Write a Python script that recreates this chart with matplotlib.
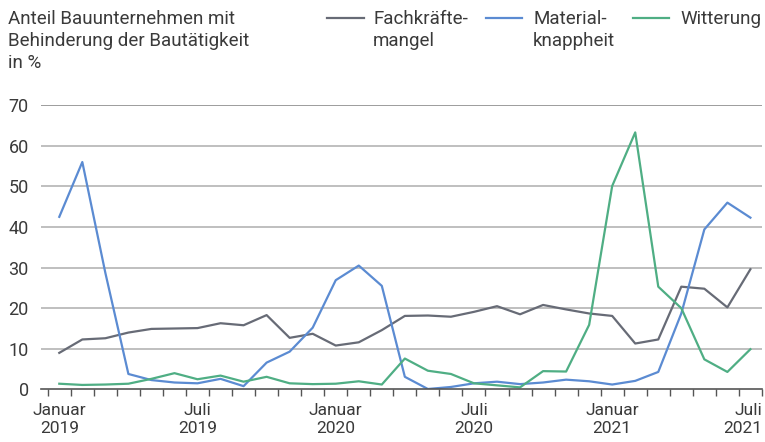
import matplotlib.pyplot as plt
from matplotlib.lines import Line2D
from matplotlib.transforms import ScaledTranslation

# monthly values, Januar 2019 .. Juli 2021
fachkraefte = [9.0, 12.3, 12.6, 14.0, 14.9, 15.0, 15.1, 16.3, 15.8, 18.3,
               12.7, 13.7, 10.8, 11.6, 14.6, 18.1, 18.2, 17.9, 19.1, 20.5,
               18.5, 20.8, 19.7, 18.7, 18.1, 11.3, 12.3, 25.3, 24.8, 20.2, 29.6]
material = [42.5, 56.0, 28.7, 3.8, 2.3, 1.7, 1.5, 2.6, 0.8, 6.6,
            9.3, 15.2, 26.9, 30.5, 25.5, 3.1, 0.1, 0.6, 1.5, 1.9,
            1.3, 1.7, 2.4, 2.0, 1.2, 2.1, 4.3, 18.7, 39.4, 46.0, 42.3]
witterung = [1.4, 1.1, 1.2, 1.4, 2.6, 4.0, 2.5, 3.4, 1.9, 3.1,
             1.5, 1.3, 1.4, 2.0, 1.2, 7.6, 4.6, 3.8, 1.5, 1.0,
             0.5, 4.5, 4.4, 15.9, 50.1, 63.3, 25.3, 20.0, 7.4, 4.3, 9.9]
tick_pos = [0, 6, 12, 18, 24, 30]
tick_labels = ['Januar\n2019', 'Juli\n2019', 'Januar\n2020', 'Juli\n2020',
               'Januar\n2021', 'Juli\n2021']

c_gray = '#676b76'
c_blue = '#5b8bd2'
c_green = '#4fae84'
txt = '#3a3a3a'

plt.rcParams['font.family'] = ['Roboto', 'DejaVu Sans']

fig = plt.figure(figsize=(7.65, 4.42), dpi=100)
ax = fig.add_axes([0.054, 0.119, 0.942, 0.643])

x = list(range(len(fachkraefte)))
ax.plot(x, fachkraefte, color=c_gray, lw=1.6)
ax.plot(x, material, color=c_blue, lw=1.6)
ax.plot(x, witterung, color=c_green, lw=1.6)

ax.set_ylim(0, 70)
ax.set_xlim(-0.78, 30.5)
ax.set_yticks(range(0, 80, 10))
for v in range(10, 80, 10):
    ax.axhline(v, color='#8c8c8c' if v == 70 else '#b4b4b4', lw=1.2, zorder=0)
ax.tick_params(axis='y', length=0, labelsize=13, colors=txt, pad=9)
ax.set_xticks(tick_pos)
ax.set_xticklabels(tick_labels, fontsize=12.5, color=txt, linespacing=1.2)
ax.set_xticks([i - 0.5 for i in range(0, 32)], minor=True)
ax.tick_params(axis='x', which='major', length=0, pad=10)
ax.tick_params(axis='x', which='minor', length=5, color='#555555', width=1)
# last label is pushed in from the right edge like in the original
last = ax.get_xticklabels()[-1]
last.set_ha('right')
last.set_transform(last.get_transform() + ScaledTranslation(0.12, 0, fig.dpi_scale_trans))
for s in ['top', 'right', 'left']:
    ax.spines[s].set_visible(False)
ax.spines['bottom'].set_color('#555555')
ax.spines['bottom'].set_linewidth(1.2)

# title
fig.text(0.011, 0.978, 'Anteil Bauunternehmen mit\nBehinderung der Bautätigkeit\nin %',
         ha='left', va='top', fontsize=13.5, color=txt, linespacing=1.3)

# legend
items = [(0.4275, 0.4876, 'Fachkräfte-\nmangel', c_gray),
         (0.635, 0.697, 'Material-\nknappheit', c_blue),
         (0.827, 0.889, 'Witterung', c_green)]
for xl, xt, label, col in items:
    fig.add_artist(Line2D([xl, xl + 0.048], [0.959, 0.959], color=col, lw=1.6,
                          transform=fig.transFigure))
    fig.text(xt, 0.978, label, ha='left', va='top', fontsize=13.5,
             color=txt, linespacing=1.3)

fig.savefig('out.png', dpi=100)
